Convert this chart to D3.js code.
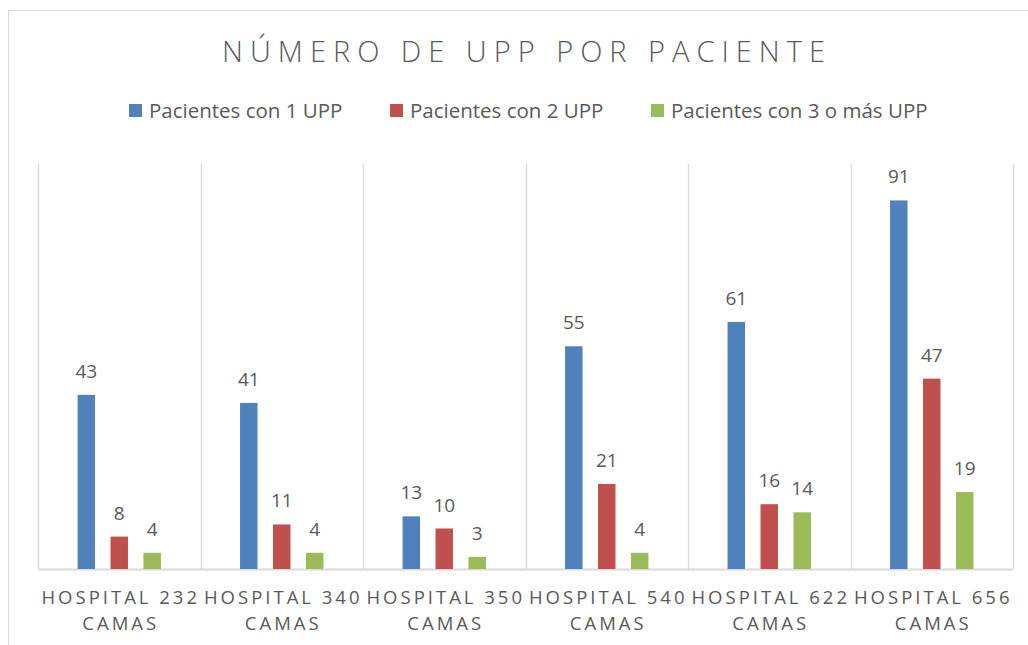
<!DOCTYPE html>
<html>
<head>
<meta charset="utf-8">
<script src="https://cdn.jsdelivr.net/npm/d3@7"></script>
<style>
  body { margin: 0; background: #fff; }
  text { font-family: "Open Sans", "Noto Sans", sans-serif; fill: #595959; }
</style>
</head>
<body>
<div id="chart-area"></div>
<script>
const width = 1028, height = 645;
const margin = ({top: 164, right: 15, bottom: 76, left: 38});

// Data
const hospitals = ["HOSPITAL 232 CAMAS", "HOSPITAL 340 CAMAS", "HOSPITAL 350 CAMAS",
    "HOSPITAL 540 CAMAS", "HOSPITAL 622 CAMAS", "HOSPITAL 656 CAMAS"];
const seriesNames = ["Pacientes con 1 UPP", "Pacientes con 2 UPP", "Pacientes con 3 o más UPP"];
const uno = [43, 41, 13, 55, 61, 91];
const dos = [8, 11, 10, 21, 16, 47];
const tresOMas = [4, 4, 3, 4, 14, 19];
const colors = ["#4F81BD", "#C0504D", "#9BBB59"];

const allSeries = [uno, dos, tresOMas];
const rows = hospitals.map((h, i) => ({
    hospital: h,
    values: allSeries.map((s, j) => ({key: seriesNames[j], val: s[i], idx: j}))
}));

const svg = d3.select("#chart-area").append("svg")
    .attr("width", width)
    .attr("height", height);

// chart border
svg.append("rect")
    .attr("x", 8.5).attr("y", 10.5)
    .attr("width", 1030).attr("height", 650)
    .attr("fill", "none")
    .attr("stroke", "#d9d9d9");

const x0 = d3.scaleBand()
    .domain(hospitals)
    .range([margin.left, width - margin.right]);

const x1 = d3.scaleBand()
    .domain(seriesNames)
    .range([0, x0.bandwidth()])
    .paddingInner(0.47)
    .paddingOuter(1.2);

const y = d3.scaleLinear()
    .domain([0, 100])
    .range([height - margin.bottom, margin.top]);

// category separators
svg.append("g")
    .selectAll("line")
    .data(d3.range(hospitals.length + 1))
    .enter().append("line")
    .attr("x1", i => Math.round(margin.left + i * x0.step()) + 0.5)
    .attr("x2", i => Math.round(margin.left + i * x0.step()) + 0.5)
    .attr("y1", y(100))
    .attr("y2", y(0))
    .attr("stroke", "#d9d9d9")
    .attr("stroke-width", 1.3);

// baseline
svg.append("line")
    .attr("x1", margin.left).attr("x2", width - margin.right)
    .attr("y1", y(0) + 0.5).attr("y2", y(0) + 0.5)
    .attr("stroke", "#d9d9d9")
    .attr("stroke-width", 2);

const groups = svg.append("g")
    .selectAll("g")
    .data(rows)
    .enter().append("g")
    .attr("transform", d => `translate(${x0(d.hospital)},0)`);

groups.selectAll("rect")
    .data(d => d.values)
    .enter().append("rect")
    .attr("x", d => x1(d.key))
    .attr("y", d => y(d.val))
    .attr("width", x1.bandwidth())
    .attr("height", d => y(0) - y(d.val))
    .attr("fill", d => colors[d.idx]);

groups.selectAll("text")
    .data(d => d.values)
    .enter().append("text")
    .attr("x", d => x1(d.key) + x1.bandwidth() / 2)
    .attr("y", d => y(d.val) - 17)
    .attr("text-anchor", "middle")
    .style("font-size", "19px")
    .text(d => d.val);

// x axis labels (two lines)
const xLabels = svg.append("g")
    .selectAll("text")
    .data(hospitals)
    .enter().append("text")
    .attr("text-anchor", "middle")
    .style("font-size", "18.5px")
    .style("letter-spacing", "3px");

xLabels.append("tspan")
    .attr("x", d => x0(d) + x0.bandwidth() / 2 + 1.5)
    .attr("y", 604)
    .text(d => d.split(" ").slice(0, 2).join(" "));

xLabels.append("tspan")
    .attr("x", d => x0(d) + x0.bandwidth() / 2 + 1.5)
    .attr("y", 630)
    .text(d => d.split(" ").slice(2).join(" "));

// title
svg.append("text")
    .attr("x", 527)
    .attr("y", 62)
    .attr("text-anchor", "middle")
    .style("font-size", "29px")
    .style("font-weight", 300)
    .style("letter-spacing", "7px")
    .text("NÚMERO DE UPP POR PACIENTE");

// legend
const legendX = [129, 390, 651];
const legend = svg.append("g")
    .selectAll("g")
    .data(seriesNames)
    .enter().append("g")
    .attr("transform", (d, i) => `translate(${legendX[i]},104)`);

legend.append("rect")
    .attr("width", 13).attr("height", 13)
    .attr("fill", (d, i) => colors[i]);

legend.append("text")
    .attr("x", 20)
    .attr("y", 14)
    .style("font-size", "20.5px")
    .text(d => d);
</script>
</body>
</html>
